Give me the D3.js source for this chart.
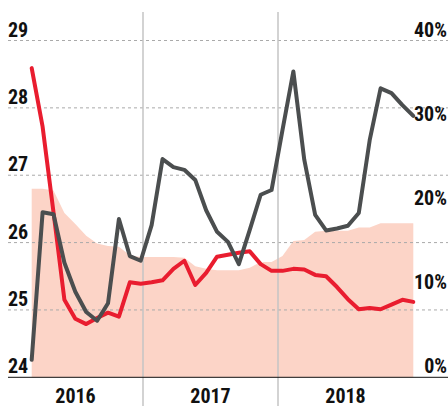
<!DOCTYPE html>
<html>
<head>
<meta charset="utf-8">
<script src="https://cdn.jsdelivr.net/npm/d3@7"></script>
<style>
  body { margin: 0; background: #fff; }
  text { font-family: "Liberation Sans Narrow", "Roboto Condensed", "DejaVu Sans Condensed", sans-serif; font-weight: bold; font-size: 20px; fill: #111; }
</style>
</head>
<body>
<script>
var years = ["2016", "2017", "2018"];
var leftTicks = [24, 25, 26, 27, 28, 29];
var rightTicks = [0, 0.1, 0.2, 0.3, 0.4];

// monthly points, Jan 2016 .. Dec 2018
var months = [];
years.forEach(function (yr) {
    for (var m = 1; m <= 12; m++) months.push(yr + "-" + (m < 10 ? "0" + m : m));
});

var grayValues = [24.26, 26.45, 26.42, 25.70, 25.27, 24.97, 24.84, 25.10, 26.35, 25.80, 25.73, 26.26,
                  27.24, 27.12, 27.08, 26.93, 26.48, 26.16, 26.01, 25.68, 26.19, 26.71, 26.78, 27.67,
                  28.54, 27.23, 26.41, 26.18, 26.21, 26.25, 26.44, 27.52, 28.29, 28.22, 28.04, 27.88];
var redValues = [28.59, 27.72, 26.45, 25.15, 24.87, 24.79, 24.88, 24.96, 24.90, 25.41, 25.39, 25.41,
                 25.44, 25.61, 25.73, 25.37, 25.55, 25.79, 25.82, 25.85, 25.87, 25.68, 25.58, 25.58,
                 25.61, 25.60, 25.52, 25.50, 25.34, 25.16, 25.01, 25.03, 25.01, 25.08, 25.15, 25.12];
var shareValues = [0.224, 0.224, 0.222, 0.195, 0.182, 0.168, 0.159, 0.156, 0.155, 0.145, 0.143, 0.143,
                   0.143, 0.143, 0.142, 0.132, 0.129, 0.127, 0.127, 0.127, 0.130, 0.137, 0.137, 0.144,
                   0.162, 0.163, 0.173, 0.174, 0.174, 0.174, 0.178, 0.178, 0.183, 0.183, 0.183, 0.183];

var width = 448, height = 406;
var plotLeft = 8, plotRight = 448, plotEnd = 413, plotBottom = 377.3, plotTop = 40.5;

var svg = d3.select("body").append("svg")
    .attr("width", width)
    .attr("height", height);

var x = d3.scalePoint().domain(months).range([31.7, 413.3]);
var xYear = d3.scaleBand().domain(years).range([plotLeft, plotEnd]);
var y = d3.scaleLinear().domain([24, 29]).range([plotBottom, plotTop]);
var y2 = d3.scaleLinear().domain([0, 0.4]).range([plotBottom, plotTop]);

// shaded area (right axis)
var area = d3.area()
    .x(function (d, i) { return x(months[i]); })
    .y0(plotBottom)
    .y1(function (d) { return y2(d); });
svg.append("path")
    .datum(shareValues)
    .attr("d", area)
    .attr("fill", "#fcd4c7");

// horizontal gridlines
svg.append("g").selectAll("line")
    .data(leftTicks.slice(1))
    .enter().append("line")
    .attr("x1", plotLeft).attr("x2", plotRight)
    .attr("y1", function (d) { return y(d); })
    .attr("y2", function (d) { return y(d); })
    .attr("stroke", "#aaa")
    .attr("stroke-width", 1)
    .attr("stroke-dasharray", "3,3");

// year separators
svg.append("g").selectAll("line")
    .data(years.slice(1))
    .enter().append("line")
    .attr("x1", function (d) { return xYear(d); })
    .attr("x2", function (d) { return xYear(d); })
    .attr("y1", 12).attr("y2", height)
    .attr("stroke", "#c4c4c4")
    .attr("stroke-width", 1.5);

// baseline
svg.append("line")
    .attr("x1", plotLeft).attr("x2", plotRight)
    .attr("y1", plotBottom).attr("y2", plotBottom)
    .attr("stroke", "#111")
    .attr("stroke-width", 1);

var line = d3.line()
    .x(function (d, i) { return x(months[i]); })
    .y(function (d) { return y(d); });

svg.append("path")
    .datum(redValues)
    .attr("d", line)
    .attr("fill", "none")
    .attr("stroke", "#e91d2f")
    .attr("stroke-width", 4)
    .attr("stroke-linejoin", "round")
    .attr("stroke-linecap", "round");

svg.append("path")
    .datum(grayValues)
    .attr("d", line)
    .attr("fill", "none")
    .attr("stroke", "#4b4e4f")
    .attr("stroke-width", 4)
    .attr("stroke-linejoin", "round")
    .attr("stroke-linecap", "round");

// left labels
svg.append("g").selectAll("text")
    .data(leftTicks)
    .enter().append("text")
    .attr("x", plotLeft)
    .attr("y", function (d) { return y(d) - 4; })
    .text(function (d) { return d; });

// right labels
svg.append("g").selectAll("text")
    .data(rightTicks)
    .enter().append("text")
    .attr("x", 447)
    .attr("y", function (d) { return y2(d) - 4; })
    .attr("text-anchor", "end")
    .text(function (d) { return d3.format(".0%")(d); });

// year labels
svg.append("g").selectAll("text")
    .data(years)
    .enter().append("text")
    .attr("x", function (d) { return xYear(d) + xYear.bandwidth() / 2; })
    .attr("y", 402.5)
    .attr("text-anchor", "middle")
    .text(function (d) { return d; });
</script>
</body>
</html>
